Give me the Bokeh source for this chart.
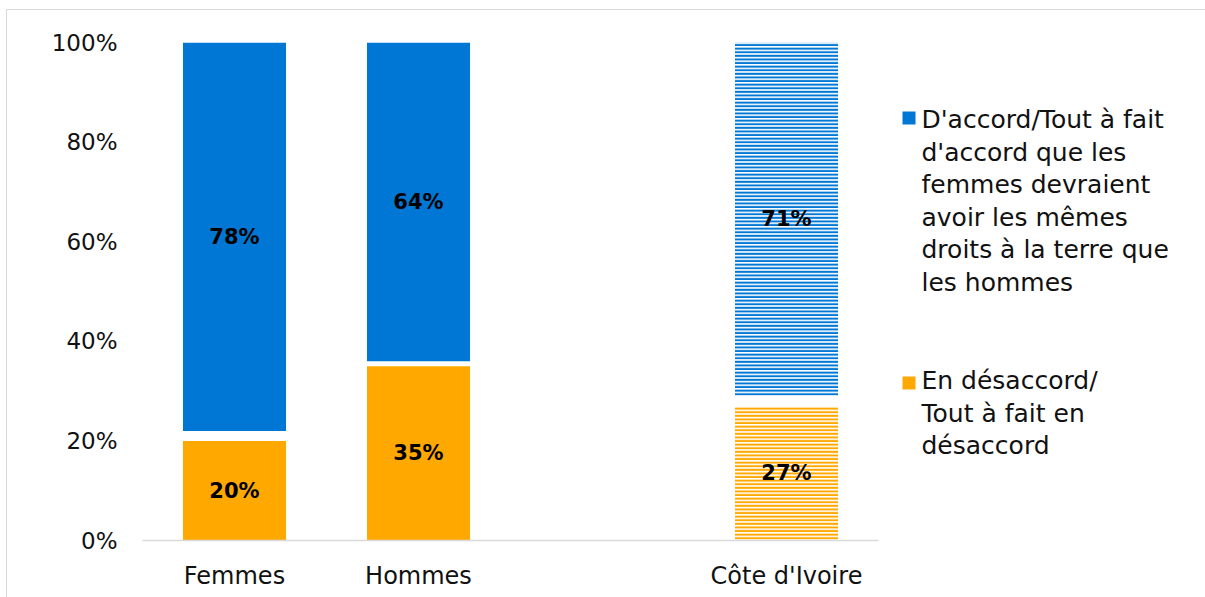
from bokeh.plotting import figure
from bokeh.layouts import row
from bokeh.models import (ColumnDataSource, FactorRange, Range1d, FixedTicker, PrintfTickFormatter)
from bokeh.core.properties import value
from bokeh.embed import file_html
from bokeh.resources import INLINE

# ---------------- data ----------------
categories = ["Femmes", "Hommes", "Côte d'Ivoire"]
desaccord = [20, 35, 27]          # En désaccord / Tout à fait en désaccord
sans_reponse = [2, 1, 2]          # not shown (white gap)
accord = [78, 64, 71]             # D'accord / Tout à fait d'accord
hatched = [False, False, True]
y_ticks = [0, 20, 40, 60, 80, 100]
legend_accord = ["D'accord/Tout à fait", "d'accord que les", "femmes devraient",
                 "avoir les mêmes", "droits à la terre que", "les hommes"]
legend_desaccord = ["En désaccord/", "Tout à fait en", "désaccord"]

BLUE = "#0077D4"
ORANGE = "#FFA800"
FONT = "DejaVu Sans"
TXT = "#111111"

factors = categories[:2] + [" "] + categories[2:]

# ---------------- page geometry ----------------
OFF_X, OFF_Y = 7, 10
H = 597 - OFF_Y
SPLIT = 890                     # page x where legend panel starts
W1 = SPLIT - OFF_X
W2 = 1205 - SPLIT
FRAME_TOP, FRAME_BOTTOM = 42, 540

p = figure(x_range=FactorRange(factors=factors, range_padding=0),
           y_range=Range1d(0, 100),
           width=W1, height=H, output_backend="svg", toolbar_location=None,
           min_border_left=142 - OFF_X, min_border_right=SPLIT - 878,
           min_border_top=FRAME_TOP - OFF_Y, min_border_bottom=H - (FRAME_BOTTOM - OFF_Y))
p.outline_line_color = None
p.xgrid.grid_line_color = None
p.ygrid.grid_line_color = None

# ---------------- bars ----------------
xs, bottoms, tops, fills, hcolors, hpats = [], [], [], [], [], []
lx, ly, ltxt = [], [], []
for i, cat in enumerate(categories):
    segs = [(0, desaccord[i], ORANGE, desaccord[i]),
            (desaccord[i] + sans_reponse[i], desaccord[i] + sans_reponse[i] + accord[i], BLUE, accord[i])]
    for b, t, c, v in segs:
        xs.append(cat)
        bottoms.append(b)
        tops.append(t)
        fills.append("white" if hatched[i] else c)
        hcolors.append(c)
        hpats.append("horizontal_line" if hatched[i] else "blank")
        lx.append(cat)
        ly.append((b + t) / 2)
        ltxt.append(f"{v}%")

src = ColumnDataSource(dict(x=xs, bottom=bottoms, top=tops, fill=fills, hc=hcolors, hp=hpats))
p.vbar(x="x", bottom="bottom", top="top", width=0.56, source=src,
       fill_color="fill", line_color=None, hatch_color="hc", hatch_pattern="hp",
       hatch_scale=3.6, hatch_weight=2.4)

lsrc = ColumnDataSource(dict(x=lx, y=ly, t=ltxt))
p.text(x="x", y="y", text="t", source=lsrc, text_align="center", text_baseline="middle",
       text_font=value(FONT), text_font_style="bold", text_font_size="21px", text_color="black")

# ---------------- axes ----------------
p.yaxis.ticker = FixedTicker(ticks=y_ticks)
p.yaxis.formatter = PrintfTickFormatter(format="%d%%")
p.yaxis.axis_line_color = None
p.yaxis.major_tick_line_color = None
p.yaxis.minor_tick_line_color = None
p.yaxis.major_tick_out = 0
p.yaxis.minor_tick_out = 0
p.yaxis.major_label_standoff = 25
p.yaxis.major_label_text_font = FONT
p.yaxis.major_label_text_font_size = "23px"
p.yaxis.major_label_text_color = TXT

p.xaxis.axis_line_color = "#d9d9d9"
p.xaxis.axis_line_width = 1.5
p.xaxis.major_tick_line_color = None
p.xaxis.minor_tick_line_color = None
p.xaxis.major_tick_out = 0
p.xaxis.minor_tick_out = 0
p.xaxis.major_label_standoff = 21
p.xaxis.major_label_text_font = FONT
p.xaxis.major_label_text_font_size = "24px"
p.xaxis.major_label_text_color = TXT

# ---------------- legend panel (page coordinates; frame aligned with main frame) ----------------
lg = figure(x_range=Range1d(SPLIT, 1205), y_range=Range1d(FRAME_BOTTOM, FRAME_TOP),
            width=W2, height=H, output_backend="svg", toolbar_location=None,
            x_axis_type=None, y_axis_type=None,
            min_border_left=0, min_border_right=0,
            min_border_top=FRAME_TOP - OFF_Y, min_border_bottom=H - (FRAME_BOTTOM - OFF_Y))
lg.outline_line_color = None

LINE_GAP = 32.5
legend_blocks = [(legend_accord, BLUE, 119, 111), (legend_desaccord, ORANGE, 380, 376)]
for lines, color, mid, sq_top in legend_blocks:
    lg.quad(left=[902], right=[915], top=[sq_top], bottom=[sq_top + 13],
            fill_color=color, line_color=None)
    lg.text(x=[921] * len(lines), y=[mid + LINE_GAP * k for k in range(len(lines))], text=lines,
            text_font=value(FONT), text_font_size="25px", text_baseline="middle",
            text_align="left", text_color=TXT)

layout = row(p, lg)
layout.margin = (OFF_Y, 0, 0, OFF_X)
layout.styles = {"box-shadow": "0 0 0 1px #d9d9d9"}

open("out.html", "w").write(file_html(layout, INLINE))
